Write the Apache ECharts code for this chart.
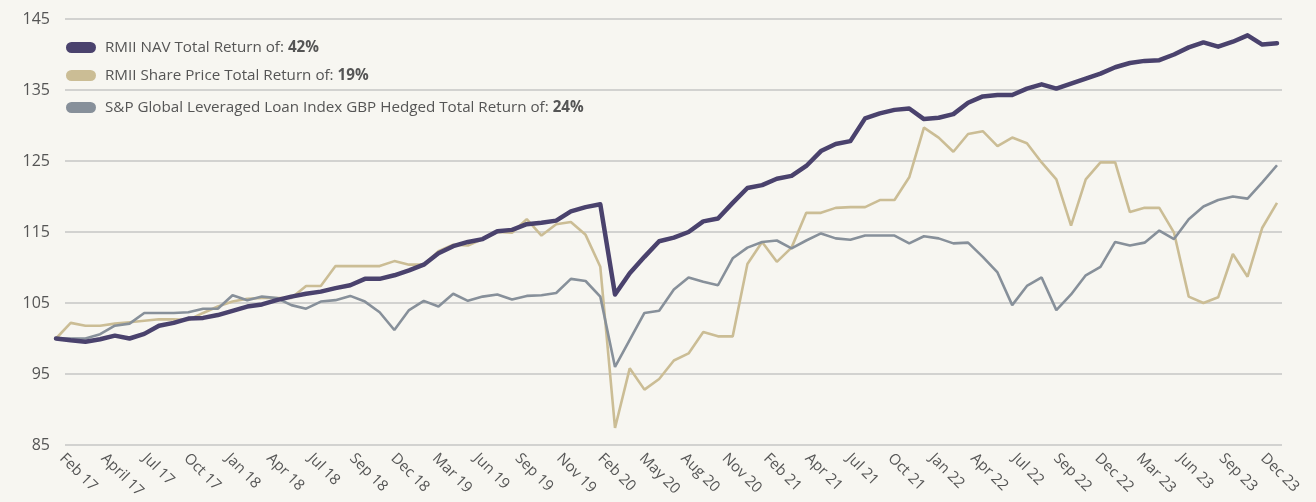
<!DOCTYPE html>
<html>
<head>
<meta charset="utf-8">
<script src="https://cdn.jsdelivr.net/npm/echarts@6/dist/echarts.min.js"></script>
<style>
html,body{margin:0;padding:0;background:#f7f6f1;}
#chart{width:1316px;height:502px;}
</style>
</head>
<body>
<div id="chart"></div>
<script>
// Monthly index values (rebased to 100), 84 points
const navTR = [100.0,99.75,99.55,99.9,100.4,100.0,100.65,101.8,102.2,102.8,102.9,103.3,103.9,104.5,104.8,105.4,105.9,106.3,106.6,107.1,107.5,108.4,108.4,108.9,109.6,110.4,112.0,113.0,113.6,114.0,115.1,115.3,116.1,116.3,116.6,117.9,118.5,118.9,106.2,109.2,111.5,113.7,114.2,115.0,116.5,116.9,119.1,121.2,121.6,122.5,122.9,124.3,126.4,127.4,127.8,131.0,131.7,132.2,132.4,130.9,131.1,131.6,133.2,134.1,134.3,134.3,135.2,135.8,135.2,135.9,136.6,137.3,138.2,138.8,139.1,139.2,140.0,141.0,141.7,141.1,141.8,142.7,141.4,141.6];
const sharePriceTR = [100.0,102.2,101.8,101.8,102.1,102.3,102.5,102.7,102.7,102.6,103.6,104.5,105.2,105.6,105.7,105.7,105.7,107.4,107.4,110.2,110.2,110.2,110.2,110.9,110.4,110.4,112.3,113.2,113.1,114.0,115.0,114.9,116.8,114.5,116.1,116.4,114.6,110.1,87.4,95.8,92.8,94.3,96.9,97.9,100.9,100.3,100.3,110.5,113.6,110.8,112.8,117.7,117.7,118.4,118.5,118.5,119.5,119.5,122.7,129.7,128.3,126.3,128.8,129.2,127.1,128.3,127.5,124.8,122.4,115.9,122.4,124.8,124.8,117.8,118.4,118.4,114.9,105.9,105.0,105.8,111.9,108.7,115.6,119.1];
const loanIndexTR = [100.0,100.0,100.0,100.6,101.8,102.1,103.6,103.6,103.6,103.7,104.2,104.2,106.1,105.4,105.9,105.7,104.7,104.2,105.2,105.4,106.0,105.2,103.7,101.2,104.0,105.3,104.5,106.3,105.3,105.9,106.2,105.5,106.0,106.1,106.4,108.4,108.1,105.9,96.0,99.8,103.6,103.9,106.9,108.6,108.0,107.5,111.3,112.8,113.6,113.8,112.7,113.8,114.8,114.1,113.9,114.5,114.5,114.5,113.4,114.4,114.1,113.4,113.5,111.5,109.3,104.7,107.4,108.6,104.0,106.2,108.9,110.1,113.6,113.1,113.5,115.2,114.0,116.8,118.6,119.5,120.0,119.7,122.0,124.4];
const tickLabels = ['Feb 17','April 17','Jul 17','Oct 17','Jan 18','Apr 18','Jul 18','Sep 18','Dec 18','Mar 19','Jun 19','Sep 19','Nov 19','Feb 20','May 20','Aug 20','Nov 20','Feb 21','Apr 21','Jul 21','Oct 21','Jan 22','Apr 22','Jul 22','Sep 22','Dec 22','Mar 23','Jun 23','Sep 23','Dec 23'];
const seriesNames = ['RMII NAV Total Return of: ','RMII Share Price Total Return of: ','S&P Global Leveraged Loan Index GBP Hedged Total Return of: '];
const returnLabels = ['42%','19%','24%'];
const yTicks = {min:85, max:145, interval:10};

const FONT = 'Open Sans';
const TXT = '#555555';
const colors = ['#4a426d','#cbbd95','#87909a'];

const chart = echarts.init(document.getElementById('chart'), null, {renderer:'canvas'});
const toPairs = arr => arr.map((v,i)=>[i,v]);

const legendTops = [35, 63, 95];
const pill = 'path://M5.5,0 H24.5 A5.5,5.5 0 0 1 24.5,11 H5.5 A5.5,5.5 0 0 1 5.5,0 Z';
const legends = seriesNames.map((n,k)=>({
  data:[{name:n, icon:pill}],
  left:61, top:legendTops[k], orient:'vertical',
  itemWidth:30, itemHeight:11, selectedMode:false,
  formatter: name => '{a|'+name+'}{b|'+returnLabels[seriesNames.indexOf(name)]+'}',
  textStyle:{
    padding:[0,0,0,4],
    rich:{
      a:{fontFamily:FONT,fontSize:15.2,color:TXT,lineHeight:20},
      b:{fontFamily:FONT,fontSize:15.2,color:TXT,fontWeight:'bold',lineHeight:20}
    }
  }
}));

const option = {
  backgroundColor:'#f7f6f1',
  animation:false,
  legend: legends,
  grid:[
    {left:56, right:39, top:19, bottom:57},   // data
    {left:65, right:34, top:19, bottom:57},   // gridlines / y labels
    {left:62, right:53, top:19, bottom:57}    // x tick labels
  ],
  xAxis:[
    {gridIndex:0, type:'value', min:0, max:navTR.length-1, show:false},
    {gridIndex:1, type:'value', min:0, max:1, show:false},
    {gridIndex:2, type:'category', data:tickLabels, boundaryGap:false,
      axisLine:{show:false}, axisTick:{show:false}, splitLine:{show:false},
      axisLabel:{interval:0, rotate:-45, margin:11, fontFamily:FONT, fontSize:15, color:TXT}}
  ],
  yAxis:[
    {gridIndex:0, type:'value', min:yTicks.min, max:yTicks.max, interval:yTicks.interval, show:false},
    {gridIndex:1, type:'value', min:yTicks.min, max:yTicks.max, interval:yTicks.interval,
      axisLine:{show:false}, axisTick:{show:false},
      splitLine:{show:true, lineStyle:{color:'#c6c6c4', width:1.5}},
      axisLabel:{margin:15, fontFamily:FONT, fontSize:16, color:TXT}},
    {gridIndex:2, type:'value', min:0, max:1, show:false}
  ],
  series:[
    {name:seriesNames[1], type:'line', xAxisIndex:0, yAxisIndex:0, data:toPairs(sharePriceTR), showSymbol:false, color:colors[1], lineStyle:{width:2.6, color:colors[1]}, z:3},
    {name:seriesNames[2], type:'line', xAxisIndex:0, yAxisIndex:0, data:toPairs(loanIndexTR), showSymbol:false, color:colors[2], lineStyle:{width:2.6, color:colors[2]}, z:4},
    {name:seriesNames[0], type:'line', xAxisIndex:0, yAxisIndex:0, data:toPairs(navTR), showSymbol:false, color:colors[0], lineStyle:{width:4.5, color:colors[0], cap:'round', join:'round'}, z:5}
  ]
};
chart.setOption(option);
</script>
</body>
</html>
